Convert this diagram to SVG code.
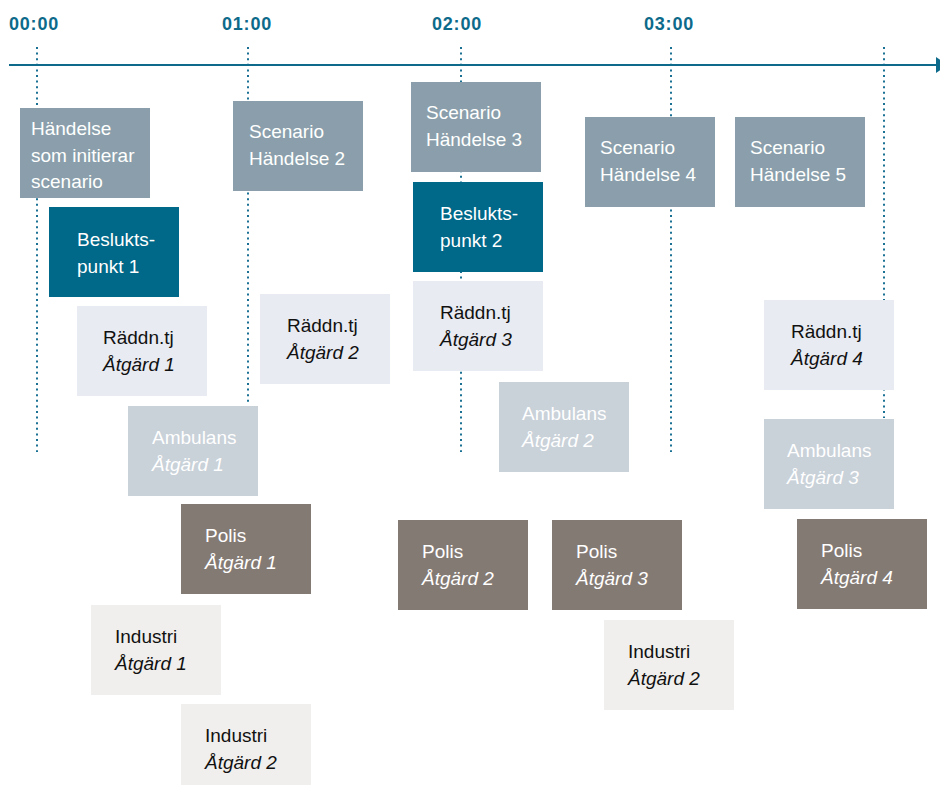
<svg xmlns="http://www.w3.org/2000/svg" width="940" height="785" viewBox="0 0 940 785">
<style>
text{font-family:"Liberation Sans",Arial,sans-serif;font-size:19px}
.t{font-weight:bold;fill:#0d6a8a;letter-spacing:0.8px;font-size:18px}
.i{font-style:italic}
.w{fill:#ffffff}
.k{fill:#111111}
.dot{stroke:#1a7194;stroke-width:2;stroke-dasharray:2 3.6;fill:none}
.sc{fill:#8a9fab}
.bp{fill:#006888}
.rt{fill:#e8ebf2}
.am{fill:#c9d1d9}
.po{fill:#847a74}
.in{fill:#f0efed}
</style>
<rect width="940" height="785" fill="#ffffff"/>
<g id="timeline">
<text class="t" x="9" y="30">00:00</text>
<text class="t" x="222" y="30">01:00</text>
<text class="t" x="432" y="30">02:00</text>
<text class="t" x="644" y="30">03:00</text>
</g>
<g id="connectors">
<line class="dot" x1="37" y1="47" x2="37" y2="452"/>
<line class="dot" x1="248" y1="47" x2="248" y2="404"/>
<line class="dot" x1="461" y1="47" x2="461" y2="452"/>
<line class="dot" x1="671" y1="47" x2="671" y2="452"/>
<line class="dot" x1="884" y1="47" x2="884" y2="418"/>
<line x1="9" y1="65" x2="938" y2="65" stroke="#0d6a8a" stroke-width="2"/>
<polygon points="936,57 948,65 936,73" fill="#0d6a8a"/>
</g>
<g id="n-handelse"><rect class="sc" x="20" y="108" width="130" height="90"/><text class="w" x="31" y="135">Händelse</text><text class="w" x="31" y="162">som initierar</text><text class="w" x="31" y="188">scenario</text></g>
<g id="n-bp1"><rect class="bp" x="49" y="207" width="130" height="90"/><text class="w" x="77" y="246">Beslukts-</text><text class="w" x="77" y="273">punkt 1</text></g>
<g id="n-sc2"><rect class="sc" x="233" y="101" width="130" height="90"/><text class="w" x="249" y="138">Scenario</text><text class="w" x="249" y="165">Händelse 2</text></g>
<g id="n-sc3"><rect class="sc" x="411" y="82" width="130" height="90"/><text class="w" x="426" y="119">Scenario</text><text class="w" x="426" y="146">Händelse 3</text></g>
<g id="n-bp2"><rect class="bp" x="413" y="182" width="130" height="90"/><text class="w" x="440" y="220">Beslukts-</text><text class="w" x="440" y="247">punkt 2</text></g>
<g id="n-sc4"><rect class="sc" x="585" y="117" width="130" height="90"/><text class="w" x="600" y="154">Scenario</text><text class="w" x="600" y="181">Händelse 4</text></g>
<g id="n-sc5"><rect class="sc" x="735" y="117" width="130" height="90"/><text class="w" x="750" y="154">Scenario</text><text class="w" x="750" y="181">Händelse 5</text></g>
<g id="n-r1"><rect class="rt" x="77" y="306" width="130" height="90"/><text class="k" x="103" y="344">Räddn.tj</text><text class="k i" x="103" y="371">Åtgärd 1</text></g>
<g id="n-r2"><rect class="rt" x="260" y="294" width="130" height="90"/><text class="k" x="287" y="332">Räddn.tj</text><text class="k i" x="287" y="359">Åtgärd 2</text></g>
<g id="n-r3"><rect class="rt" x="413" y="281" width="130" height="90"/><text class="k" x="440" y="319">Räddn.tj</text><text class="k i" x="440" y="346">Åtgärd 3</text></g>
<g id="n-r4"><rect class="rt" x="764" y="300" width="130" height="90"/><text class="k" x="791" y="338">Räddn.tj</text><text class="k i" x="791" y="365">Åtgärd 4</text></g>
<g id="n-a1"><rect class="am" x="128" y="406" width="130" height="90"/><text class="w" x="152" y="444">Ambulans</text><text class="w i" x="152" y="471">Åtgärd 1</text></g>
<g id="n-a2"><rect class="am" x="499" y="382" width="130" height="90"/><text class="w" x="522" y="420">Ambulans</text><text class="w i" x="522" y="447">Åtgärd 2</text></g>
<g id="n-a3"><rect class="am" x="764" y="419" width="130" height="90"/><text class="w" x="787" y="457">Ambulans</text><text class="w i" x="787" y="484">Åtgärd 3</text></g>
<g id="n-p1"><rect class="po" x="181" y="504" width="130" height="90"/><text class="w" x="205" y="542">Polis</text><text class="w i" x="205" y="569">Åtgärd 1</text></g>
<g id="n-p2"><rect class="po" x="398" y="520" width="130" height="90"/><text class="w" x="422" y="558">Polis</text><text class="w i" x="422" y="585">Åtgärd 2</text></g>
<g id="n-p3"><rect class="po" x="552" y="520" width="130" height="90"/><text class="w" x="576" y="558">Polis</text><text class="w i" x="576" y="585">Åtgärd 3</text></g>
<g id="n-p4"><rect class="po" x="797" y="519" width="130" height="90"/><text class="w" x="821" y="557">Polis</text><text class="w i" x="821" y="584">Åtgärd 4</text></g>
<g id="n-i1"><rect class="in" x="91" y="605" width="130" height="90"/><text class="k" x="115" y="643">Industri</text><text class="k i" x="115" y="670">Åtgärd 1</text></g>
<g id="n-i2a"><rect class="in" x="181" y="704" width="130" height="90"/><text class="k" x="205" y="742">Industri</text><text class="k i" x="205" y="769">Åtgärd 2</text></g>
<g id="n-i2b"><rect class="in" x="604" y="620" width="130" height="90"/><text class="k" x="628" y="658">Industri</text><text class="k i" x="628" y="685">Åtgärd 2</text></g>
</svg>
